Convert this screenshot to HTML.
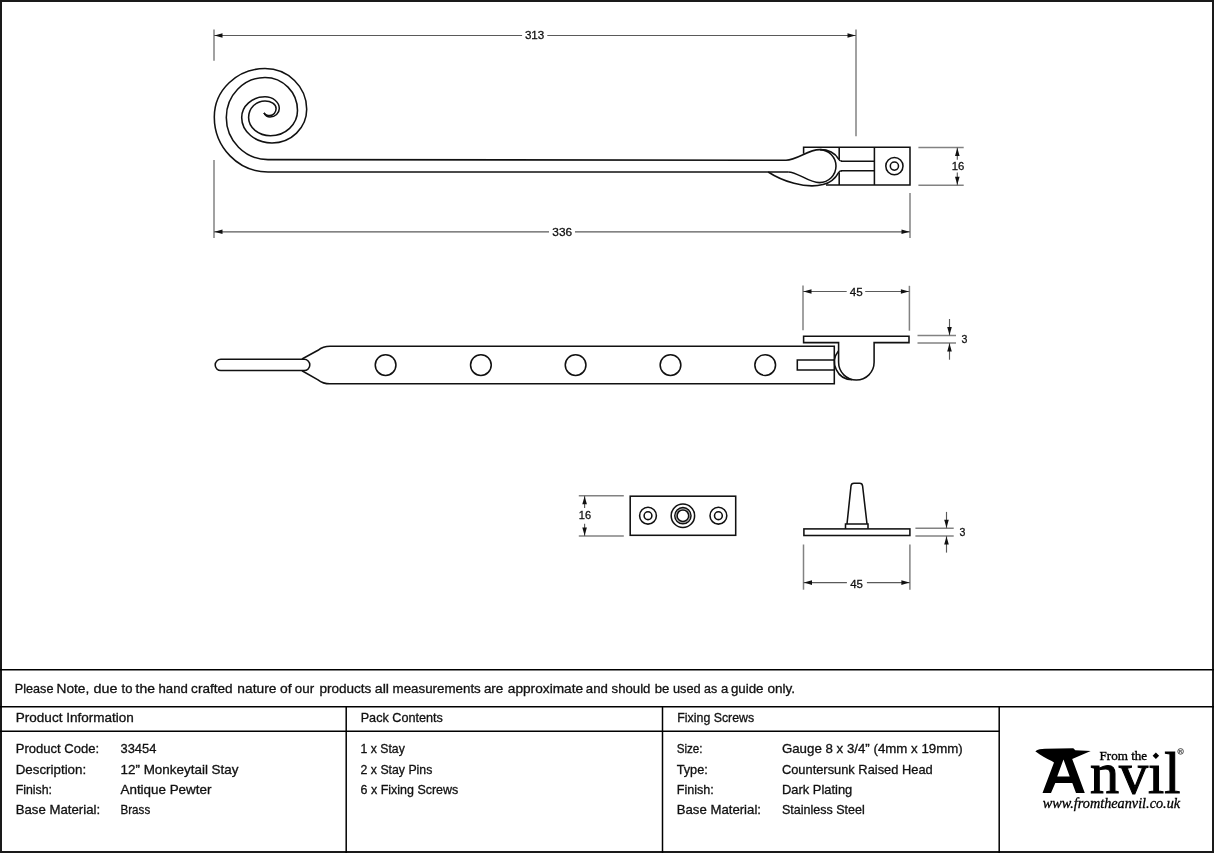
<!DOCTYPE html>
<html><head><meta charset="utf-8">
<style>
html,body{margin:0;padding:0;background:#fff;}
body{width:1214px;height:853px;overflow:hidden;position:relative;}
svg{position:absolute;left:0;top:0;filter:grayscale(1);}
.t{font-family:"Liberation Sans",sans-serif;font-size:12.6px;fill:#111;stroke:#111;stroke-width:0.3px;}
.d{font-family:"Liberation Sans",sans-serif;font-size:11.6px;fill:#111;stroke:#111;stroke-width:0.3px;}
.k{fill:none;stroke:#111;stroke-width:1.55;}
.e{stroke:#828282;stroke-width:1.5;fill:none;}
.m{stroke:#5a5a5a;stroke-width:1.15;fill:none;}
.a{fill:#111;stroke:none;}
.g{stroke:#000;stroke-width:1.5;fill:none;}
</style></head><body>
<svg width="1214" height="853" viewBox="0 0 1214 853">
<!-- page border -->
<rect x="1" y="1" width="1212" height="851" fill="none" stroke="#1a1a1a" stroke-width="2"/>
<!-- table lines -->
<line class="g" x1="0" y1="669.8" x2="1214" y2="669.8"/>
<line class="g" x1="0" y1="706.8" x2="1214" y2="706.8"/>
<line class="g" x1="0" y1="731.3" x2="999.2" y2="731.3"/>
<line class="g" x1="346.2" y1="706.8" x2="346.2" y2="853"/>
<line class="g" x1="662.5" y1="706.8" x2="662.5" y2="853"/>
<line class="g" x1="999.2" y1="706.8" x2="999.2" y2="853"/>

<!-- table text -->
<text class="t" x="14.8" y="693.3" textLength="38.7" lengthAdjust="spacingAndGlyphs">Please</text>
<text class="t" x="56.5" y="693.3" textLength="32.8" lengthAdjust="spacingAndGlyphs">Note,</text>
<text class="t" x="93.6" y="693.3" textLength="23.9" lengthAdjust="spacingAndGlyphs">due</text>
<text class="t" x="121.5" y="693.3" textLength="10.9" lengthAdjust="spacingAndGlyphs">to</text>
<text class="t" x="135.5" y="693.3" textLength="19.4" lengthAdjust="spacingAndGlyphs">the</text>
<text class="t" x="158.5" y="693.3" textLength="29.3" lengthAdjust="spacingAndGlyphs">hand</text>
<text class="t" x="191.1" y="693.3" textLength="41.5" lengthAdjust="spacingAndGlyphs">crafted</text>
<text class="t" x="237.3" y="693.3" textLength="39.1" lengthAdjust="spacingAndGlyphs">nature</text>
<text class="t" x="280.0" y="693.3" textLength="11.6" lengthAdjust="spacingAndGlyphs">of</text>
<text class="t" x="294.8" y="693.3" textLength="19.3" lengthAdjust="spacingAndGlyphs">our</text>
<text class="t" x="319.4" y="693.3" textLength="52.0" lengthAdjust="spacingAndGlyphs">products</text>
<text class="t" x="374.7" y="693.3" textLength="14.3" lengthAdjust="spacingAndGlyphs">all</text>
<text class="t" x="392.6" y="693.3" textLength="88.2" lengthAdjust="spacingAndGlyphs">measurements</text>
<text class="t" x="483.9" y="693.3" textLength="19.4" lengthAdjust="spacingAndGlyphs">are</text>
<text class="t" x="507.8" y="693.3" textLength="75.3" lengthAdjust="spacingAndGlyphs">approximate</text>
<text class="t" x="585.8" y="693.3" textLength="22.0" lengthAdjust="spacingAndGlyphs">and</text>
<text class="t" x="611.6" y="693.3" textLength="38.8" lengthAdjust="spacingAndGlyphs">should</text>
<text class="t" x="654.7" y="693.3" textLength="14.6" lengthAdjust="spacingAndGlyphs">be</text>
<text class="t" x="672.9" y="693.3" textLength="27.7" lengthAdjust="spacingAndGlyphs">used</text>
<text class="t" x="704.1" y="693.3" textLength="13.1" lengthAdjust="spacingAndGlyphs">as</text>
<text class="t" x="720.9" y="693.3" textLength="7.3" lengthAdjust="spacingAndGlyphs">a</text>
<text class="t" x="730.9" y="693.3" textLength="32.6" lengthAdjust="spacingAndGlyphs">guide</text>
<text class="t" x="767.4" y="693.3" textLength="27.6" lengthAdjust="spacingAndGlyphs">only.</text>
<text class="t" x="15.8" y="722.4" textLength="118" lengthAdjust="spacingAndGlyphs">Product Information</text>
<text class="t" x="360.7" y="722.4" textLength="82.2" lengthAdjust="spacingAndGlyphs">Pack Contents</text>
<text class="t" x="677.3" y="722.4" textLength="76.9" lengthAdjust="spacingAndGlyphs">Fixing Screws</text>

<text class="t" x="15.7" y="753.2" textLength="83.4" lengthAdjust="spacingAndGlyphs">Product Code:</text>
<text class="t" x="15.7" y="773.6" textLength="70.5" lengthAdjust="spacingAndGlyphs">Description:</text>
<text class="t" x="15.7" y="794.0" textLength="36.3" lengthAdjust="spacingAndGlyphs">Finish:</text>
<text class="t" x="15.7" y="814.4" textLength="84.4" lengthAdjust="spacingAndGlyphs">Base Material:</text>
<text class="t" x="120.5" y="753.2" textLength="35.9" lengthAdjust="spacingAndGlyphs">33454</text>
<text class="t" x="120.5" y="773.6" textLength="118" lengthAdjust="spacingAndGlyphs">12” Monkeytail Stay</text>
<text class="t" x="120.5" y="794.0" textLength="90.9" lengthAdjust="spacingAndGlyphs">Antique Pewter</text>
<text class="t" x="120.5" y="814.4" textLength="29.7" lengthAdjust="spacingAndGlyphs">Brass</text>

<text class="t" x="360.6" y="753.2" textLength="44.2" lengthAdjust="spacingAndGlyphs">1 x Stay</text>
<text class="t" x="360.6" y="773.6" textLength="71.7" lengthAdjust="spacingAndGlyphs">2 x Stay Pins</text>
<text class="t" x="360.6" y="794.0" textLength="97.7" lengthAdjust="spacingAndGlyphs">6 x Fixing Screws</text>

<text class="t" x="676.7" y="753.2" textLength="25.9" lengthAdjust="spacingAndGlyphs">Size:</text>
<text class="t" x="676.7" y="773.6" textLength="31.1" lengthAdjust="spacingAndGlyphs">Type:</text>
<text class="t" x="676.7" y="794.0" textLength="37.1" lengthAdjust="spacingAndGlyphs">Finish:</text>
<text class="t" x="676.7" y="814.4" textLength="84.3" lengthAdjust="spacingAndGlyphs">Base Material:</text>
<text class="t" x="781.9" y="753.2" textLength="180.9" lengthAdjust="spacingAndGlyphs">Gauge 8 x 3/4” (4mm x 19mm)</text>
<text class="t" x="781.9" y="773.6" textLength="150.8" lengthAdjust="spacingAndGlyphs">Countersunk Raised Head</text>
<text class="t" x="781.9" y="794.0" textLength="70.4" lengthAdjust="spacingAndGlyphs">Dark Plating</text>
<text class="t" x="781.9" y="814.4" textLength="82.9" lengthAdjust="spacingAndGlyphs">Stainless Steel</text>
<line class="e" x1="214.00" y1="29.40" x2="214.00" y2="60.70"/>
<line class="e" x1="214.00" y1="160.00" x2="214.00" y2="238.00"/>
<line class="e" x1="856.00" y1="29.50" x2="856.00" y2="136.20"/>
<line class="m" x1="214.00" y1="35.50" x2="522.10" y2="35.50"/>
<line class="m" x1="547.30" y1="35.50" x2="856.00" y2="35.50"/>
<polygon class="a" points="214.50,35.50 222.50,33.20 222.50,37.80"/>
<polygon class="a" points="855.50,35.50 847.50,33.20 847.50,37.80"/>
<text class="d" x="524.90" y="39.20" textLength="19.40" lengthAdjust="spacingAndGlyphs">313</text>
<line class="e" x1="910.00" y1="193.00" x2="910.00" y2="238.00"/>
<line class="m" x1="214.00" y1="231.80" x2="549.00" y2="231.80"/>
<line class="m" x1="575.00" y1="231.80" x2="910.00" y2="231.80"/>
<polygon class="a" points="214.50,231.80 222.50,229.50 222.50,234.10"/>
<polygon class="a" points="909.50,231.80 901.50,229.50 901.50,234.10"/>
<text class="d" x="552.30" y="235.80" textLength="19.80" lengthAdjust="spacingAndGlyphs">336</text>
<line class="e" x1="918.40" y1="147.40" x2="963.70" y2="147.40"/>
<line class="e" x1="918.40" y1="185.20" x2="963.70" y2="185.20"/>
<line class="m" x1="957.30" y1="147.40" x2="957.30" y2="159.70"/>
<line class="m" x1="957.30" y1="172.60" x2="957.30" y2="185.20"/>
<polygon class="a" points="957.30,147.90 955.00,155.90 959.60,155.90"/>
<polygon class="a" points="957.30,184.70 955.00,176.70 959.60,176.70"/>
<text class="d" x="951.80" y="169.80" textLength="12.60" lengthAdjust="spacingAndGlyphs">16</text>
<path class="k" d="M 788.2,171.9 L 268,172 C 238.34,172.00 214.30,147.38 214.30,117.00 C 214.30,90.27 237.00,68.60 265.00,68.60 C 288.03,68.60 306.70,86.82 306.70,109.30 C 306.70,127.91 291.16,143.00 272.00,143.00 C 255.27,143.00 241.70,131.58 241.70,117.50 C 241.70,106.07 252.13,96.80 265.00,96.80 C 272.90,96.80 279.30,102.04 279.30,108.50 C 279.30,113.19 275.14,117.00 270.00,117.00 C 267.00,117.00 265.00,114.80 264.00,112.80"/>
<path class="k" d="M 786,160.2 L 268,159.6 C 244.97,159.60 226.30,140.75 226.30,117.50 C 226.30,95.41 243.63,77.50 265.00,77.50 C 282.95,77.50 297.50,92.27 297.50,110.50 C 297.50,124.42 285.41,135.70 270.50,135.70 C 258.40,135.70 248.60,127.55 248.60,117.50 C 248.60,108.33 255.94,100.90 265.00,100.90 C 271.13,100.90 276.10,104.30 276.10,108.50 C 276.10,112.42 273.37,115.60 270.00,115.60 C 267.00,115.60 265.00,114.80 264.00,112.80"/>
<path class="k" d="M 803.6,153.7 L 803.6,147.2 L 910,147.2 L 910,185 L 826,185"/>
<line class="k" x1="839.20" y1="147.20" x2="839.20" y2="159.50"/>
<line class="k" x1="839.20" y1="172.60" x2="839.20" y2="185.00"/>
<line class="k" x1="874.40" y1="147.20" x2="874.40" y2="185.00"/>
<line class="k" x1="841.00" y1="161.30" x2="874.40" y2="161.30"/>
<line class="k" x1="841.00" y1="170.80" x2="874.40" y2="170.80"/>
<circle class="k" cx="894.4" cy="166.1" r="8.6"/>
<circle class="k" cx="894.4" cy="166.1" r="4.1"/>
<path class="k" d="M 786,160.2 C 797,160.2 808,149.6 819.5,149.6 A 16.5 16.5 0 0 1 819.5,182.6 C 808,182.6 798,171.9 788.2,171.9"/>
<path class="k" d="M 820,149.6 C 828,149.6 835,153 838.6,159 Q 839.6,161.3 842,161.3"/><path class="k" d="M 842,170.8 Q 839.6,170.8 838.6,172.6 C 835,179 830,183 823,184.6 C 805,189 782,181 768.2,172"/>
<rect class="k" x="215.2" y="359.3" width="94.6" height="11.3" rx="5.6" ry="5.6"/>
<path class="k" d="M 302,359 L 318,350.3 Q 323,346.3 330,346.3 L 834.3,346.3 L 834.3,383.8 L 330,383.8 Q 323,383.8 318,379.8 L 302,370.8"/>
<circle class="k" cx="385.6" cy="365.1" r="10.35"/>
<circle class="k" cx="480.9" cy="365.1" r="10.35"/>
<circle class="k" cx="575.6" cy="365.1" r="10.35"/>
<circle class="k" cx="670.5" cy="365.1" r="10.35"/>
<circle class="k" cx="765.2" cy="365.1" r="10.35"/>
<path class="k" d="M 834.3,360 L 797.3,360 L 797.3,369.9 L 834.3,369.9"/>
<path class="k" d="M 838.6,342.6 L 803.6,342.6 L 803.6,336.3 L 909,336.3 L 909,342.6 L 874.1,342.6 L 874.1,362.3 A 17.75 17.75 0 0 1 838.6,362.3 Z"/>
<path class="k" d="M 838.4,351 A 17.7 17.7 0 0 0 852,379.7"/>
<line class="e" x1="803.00" y1="285.40" x2="803.00" y2="330.20"/>
<line class="e" x1="909.40" y1="285.80" x2="909.40" y2="330.70"/>
<line class="m" x1="803.00" y1="291.50" x2="846.70" y2="291.50"/>
<line class="m" x1="865.20" y1="291.50" x2="909.40" y2="291.50"/>
<polygon class="a" points="803.50,291.50 811.50,289.20 811.50,293.80"/>
<polygon class="a" points="908.90,291.50 900.90,289.20 900.90,293.80"/>
<text class="d" x="849.70" y="295.60" textLength="12.90" lengthAdjust="spacingAndGlyphs">45</text>
<line class="e" x1="917.50" y1="335.60" x2="956.00" y2="335.60"/>
<line class="e" x1="917.50" y1="343.00" x2="956.00" y2="343.00"/>
<line class="m" x1="949.50" y1="319.00" x2="949.50" y2="335.60"/>
<line class="m" x1="949.50" y1="343.00" x2="949.50" y2="359.70"/>
<polygon class="a" points="949.50,335.10 947.20,327.10 951.80,327.10"/>
<polygon class="a" points="949.50,343.50 947.20,351.50 951.80,351.50"/>
<text class="d" x="961.50" y="343.30" textLength="5.90" lengthAdjust="spacingAndGlyphs">3</text>
<line class="e" x1="578.80" y1="495.70" x2="623.80" y2="495.70"/>
<line class="e" x1="578.80" y1="536.00" x2="623.80" y2="536.00"/>
<line class="m" x1="584.60" y1="495.70" x2="584.60" y2="507.90"/>
<line class="m" x1="584.60" y1="523.70" x2="584.60" y2="536.00"/>
<polygon class="a" points="584.60,496.20 582.30,504.20 586.90,504.20"/>
<polygon class="a" points="584.60,535.50 582.30,527.50 586.90,527.50"/>
<text class="d" x="578.80" y="519.10" textLength="12.30" lengthAdjust="spacingAndGlyphs">16</text>
<rect class="k" x="630.2" y="496.2" width="105.5" height="39.1"/>
<circle class="k" cx="648.0" cy="515.7" r="8.4"/>
<circle class="k" cx="648.0" cy="515.7" r="3.9"/>
<circle class="k" cx="718.4" cy="515.7" r="8.4"/>
<circle class="k" cx="718.4" cy="515.7" r="3.9"/>
<circle class="k" cx="682.9" cy="515.7" r="11.7"/>
<circle class="k" cx="682.9" cy="515.7" r="8.1"/>
<circle fill="none" stroke="#777" stroke-width="0.7" cx="682.9" cy="515.7" r="7.0"/>
<circle class="k" cx="682.9" cy="515.7" r="5.8"/>
<rect class="k" x="803.9" y="528.9" width="106" height="6.6"/>
<path class="k" d="M 845.5,529 L 845.5,524 L 868,524 L 868,529"/>
<path class="k" d="M 847,524 L 851,486 Q 851.3,483.3 854,483.3 L 859.6,483.3 Q 862.3,483.3 862.6,486 L 867,524"/>
<line class="e" x1="803.50" y1="544.50" x2="803.50" y2="589.70"/>
<line class="e" x1="909.90" y1="544.50" x2="909.90" y2="589.70"/>
<line class="m" x1="803.50" y1="582.60" x2="846.90" y2="582.60"/>
<line class="m" x1="866.90" y1="582.60" x2="909.90" y2="582.60"/>
<polygon class="a" points="804.00,582.60 812.00,580.30 812.00,584.90"/>
<polygon class="a" points="909.40,582.60 901.40,580.30 901.40,584.90"/>
<text class="d" x="850.20" y="587.60" textLength="12.70" lengthAdjust="spacingAndGlyphs">45</text>
<line class="e" x1="915.40" y1="528.20" x2="953.70" y2="528.20"/>
<line class="e" x1="915.40" y1="535.90" x2="953.70" y2="535.90"/>
<line class="m" x1="946.50" y1="511.90" x2="946.50" y2="528.20"/>
<line class="m" x1="946.50" y1="535.90" x2="946.50" y2="552.60"/>
<polygon class="a" points="946.50,527.70 944.20,519.70 948.80,519.70"/>
<polygon class="a" points="946.50,536.40 944.20,544.40 948.80,544.40"/>
<text class="d" x="959.60" y="535.90" textLength="5.90" lengthAdjust="spacingAndGlyphs">3</text>
<path fill="#000" d="M 1035.3,751.2 C 1038,749.5 1041,748.9 1045,748.8 L 1073.3,748.2 L 1075.3,750.2 L 1090.7,750.9 L 1072.2,758.9 L 1084.8,792.9 L 1076,792.9 L 1072.3,783 L 1055.3,783 L 1051,792.9 L 1042.5,792.9 L 1054,762.4 L 1051.7,761 C 1046,758.5 1041,755.5 1035.3,751.2 Z M 1063.5,759.4 L 1057.2,776.5 L 1069.7,776.5 Z"/>
<text x="1099.5" y="759.5" font-family="Liberation Serif" font-size="13px" stroke="#000" stroke-width="0.35" textLength="47.7" lengthAdjust="spacingAndGlyphs">From the</text>
<text x="1089.9" y="793" font-family="Liberation Serif" font-size="59px" stroke="#000" stroke-width="1.1" textLength="90.5" lengthAdjust="spacingAndGlyphs">nvıl</text>
<rect x="1153.6" y="753.5" width="4.6" height="4.6" transform="rotate(45 1155.9 755.8)" fill="#000"/>
<text x="1042.8" y="807.7" font-family="Liberation Serif" font-style="italic" font-size="14px" stroke="#000" stroke-width="0.3" textLength="137.3" lengthAdjust="spacingAndGlyphs">www.fromtheanvil.co.uk</text>
<circle cx="1180.6" cy="751.4" r="2.8" fill="none" stroke="#222" stroke-width="0.8"/><text x="1179.1" y="753.1" font-family="Liberation Sans" font-size="4.2px" font-weight="bold" fill="#222">R</text>

</svg>
</body></html>
